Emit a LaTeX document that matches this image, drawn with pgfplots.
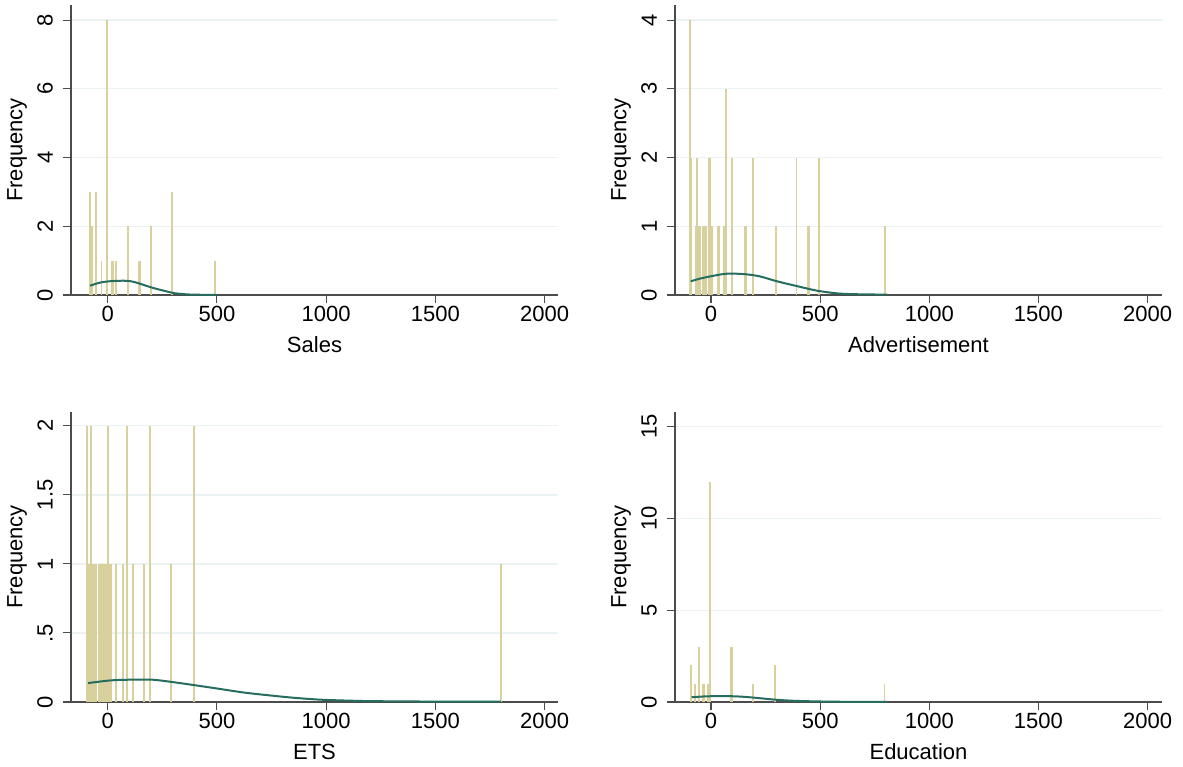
\documentclass[border=0pt]{standalone}
\usepackage{pgfplots}
\pgfplotsset{compat=1.18}
\usepackage{fontspec}
\setmainfont{Liberation Sans}
\definecolor{barc}{RGB}{216,209,157}
\definecolor{curvec}{RGB}{38,108,95}
\definecolor{gridc}{RGB}{234,242,243}
\pgfplotsset{
  panel/.style={
    scale only axis, width=487pt, height=290pt,
    xmin=-168, xmax=2061, ymin=0,
    axis x line*=bottom, axis y line*=left,
    axis line style={-, black!70, line width=1.1pt},
    tick style={black!70, line width=1.1pt},
    tick align=outside, major tick length=8pt,
    ymajorgrids, major grid style={gridc, line width=1.3pt},
    xtick={0,500,1000,1500,2000},
    xticklabels={0,500,1000,1500,2000},
    /pgf/number format/assume math mode=true,
    font=\fontsize{22}{26}\selectfont,
    tick label style={font=\fontsize{22}{26}\selectfont},
    yticklabel style={rotate=90, anchor=south, inner ysep=10pt},
    ylabel={Frequency},
    every axis y label/.style={at={(axis description cs:0,0.5)}, xshift=-54pt, rotate=90, anchor=center},
    every axis x label/.style={at={(axis description cs:0.5,0)}, yshift=-50pt, anchor=center},
    clip=false,
  },
  bars/.style={ycomb, color=barc, line width=1.8pt},
  curve/.style={smooth, color=curvec, line width=2pt},
}
\begin{document}
\begin{tikzpicture}
\path[use as bounding box] (0,0) rectangle (1183pt,767pt);
% Sales
\begin{axis}[panel, at={(71pt,472pt)}, anchor=south west, ymax=8.44,
  ytick={0,2,4,6,8}, yticklabels={0,2,4,6,8}, xlabel={Sales}]
\addplot[bars] coordinates {(-81,3) (-75,2) (-72,2) (-54,3) (-28,1) (-5,8) (19,1) (23,1) (37,1) (94,2) (143,1) (148,1) (197,2) (294,3) (491,1)};
\addplot[curve] coordinates {(-81,0.27) (-36,0.36) (10,0.40) (41,0.41) (65,0.415) (94,0.41) (120,0.38) (147,0.33) (200,0.22) (253,0.13) (307,0.05) (337,0.03) (391,0.01) (498,0.003)};
\end{axis}
% Advertisement
\begin{axis}[panel, at={(675pt,472pt)}, anchor=south west, ymax=4.22,
  ytick={0,1,2,3,4}, yticklabels={0,1,2,3,4}, xmin=-165, xmax=2066, xlabel={Advertisement}]
\addplot[bars] coordinates {(-96,4) (-92,2) (-70,1) (-66,2) (-58,1) (-50,1) (-38,1) (-31,1) (-24,1) (-8,2) (-3,2) (6,1) (31,1) (37,1) (57,1) (61,1) (67,3) (95,2) (156,1) (160,1) (193,2) (296,1) (392,2) (442,1) (447,1) (496,2) (796,1)};
\addplot[curve] coordinates {(-93,0.20) (-35,0.25) (57,0.305) (110,0.31) (164,0.30) (225,0.27) (301,0.20) (393,0.13) (485,0.063) (577,0.024) (653,0.012) (806,0.005)};
\end{axis}
% ETS
\begin{axis}[panel, at={(71pt,65pt)}, anchor=south west, ymax=2.1,
  ytick={0,0.5,1,1.5,2}, yticklabels={0,.5,1,1.5,2}, xlabel={ETS}]
\addplot[bars] coordinates {(-95,2) (-90,1) (-86,1) (-82,1) (-75,2) (-70,1) (-65,1) (-60,1) (-55,1) (-42,1) (-36,1) (-29,1) (-22,1) (-12,1) (-6,1) (0,2) (5,1) (11,1) (17,1) (37,1) (71,1) (90,2) (115,1) (165,1) (192,2) (291,1) (396,2) (1800,1)};
\addplot[curve] coordinates {(-90,0.137) (10,0.156) (87,0.161) (150,0.162) (209,0.161) (285,0.147) (392,0.123) (499,0.098) (621,0.069) (728,0.05) (849,0.031) (972,0.017) (1100,0.01) (1220,0.006) (1500,0.003) (1800,0.002)};
\end{axis}
% Education
\begin{axis}[panel, at={(675pt,65pt)}, anchor=south west, ymax=15.8,
  ytick={0,5,10,15}, yticklabels={0,5,10,15}, xmin=-165, xmax=2066, xlabel={Education}]
\addplot[bars] coordinates {(-92,2) (-73,1) (-55,3) (-38,1) (-33,1) (-14,1) (-9,1) (-6,12) (92,3) (96,3) (194,1) (292,2) (795,1)};
\addplot[curve] coordinates {(-89,0.26) (-35,0.30) (20,0.32) (80,0.32) (141,0.29) (194,0.24) (255,0.17) (301,0.12) (370,0.07) (450,0.04) (515,0.025) (600,0.012) (700,0.005) (806,0.002)};
\end{axis}
\end{tikzpicture}
\end{document}
